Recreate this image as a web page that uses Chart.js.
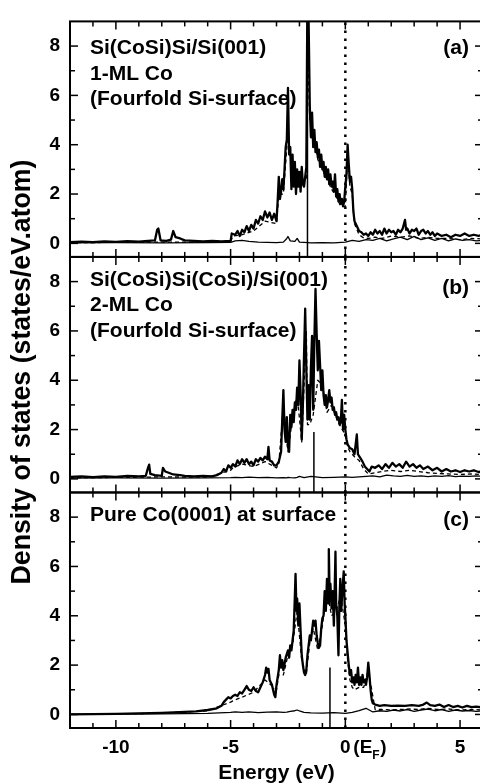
<!DOCTYPE html>
<html>
<head>
<meta charset="utf-8">
<script src="https://cdn.jsdelivr.net/npm/chart.js@4.4.1/dist/chart.umd.min.js"></script>
<style>
html, body { margin: 0; padding: 0; background: #fff; overflow: hidden; }
#wrap { width: 480px; height: 784px; overflow: hidden; position: relative; }
canvas { display: block; }
</style>
</head>
<body>
<div id="wrap"><canvas id="dos" width="486" height="784"></canvas></div>
<script>
// ---- data ----
const xTickValues = [-10, -5, 0, 5];
const yTickValues = [0, 2, 4, 6, 8];
const fermiEnergy = 0;

// panel (a) total DOS
const energyA = [
  -12, -11.5, -11, -10.5, -10, -9.5, -9, -8.6, -8.3, -8.2,
  -8.15, -8.05, -7.8, -7.6, -7.5, -7.4, -7.2, -7, -6.6, -6.2,
  -5.8, -5.4, -5.0, -4.95, -4.8, -4.7, -4.6, -4.5, -4.4, -4.3,
  -4.2, -4.1, -4.0, -3.9, -3.8, -3.7, -3.6, -3.5, -3.4, -3.3,
  -3.2, -3.1, -3.0, -2.95, -2.9, -2.85, -2.8, -2.75, -2.7, -2.65,
  -2.6, -2.55, -2.5, -2.45, -2.4, -2.35, -2.3, -2.25, -2.2, -2.15,
  -2.1, -2.05, -2.0, -1.95, -1.9, -1.85, -1.8, -1.75, -1.7, -1.66,
  -1.6, -1.55, -1.5, -1.45, -1.4, -1.35, -1.3, -1.25, -1.2, -1.15,
  -1.1, -1.05, -1.0, -0.95, -0.9, -0.85, -0.8, -0.75, -0.7, -0.65,
  -0.6, -0.55, -0.5, -0.45, -0.4, -0.35, -0.3, -0.25, -0.2, -0.15,
  -0.1, -0.05, 0.0, 0.05, 0.1, 0.15, 0.2, 0.25, 0.3, 0.35,
  0.4, 0.5, 0.6, 0.7, 0.8, 0.9, 1.0, 1.1, 1.2, 1.3,
  1.4, 1.5, 1.6, 1.7, 1.8, 1.9, 2.0, 2.1, 2.2, 2.3,
  2.4, 2.5, 2.6, 2.65, 2.7, 2.8, 2.9, 3.0, 3.1, 3.2,
  3.3, 3.4, 3.5, 3.6, 3.7, 3.8, 3.9, 4.0, 4.2, 4.4,
  4.6, 4.8, 5.0, 5.2, 5.4, 5.6, 5.8, 6.0
];
const totalA = [
  0.05, 0.07, 0.05, 0.08, 0.06, 0.09, 0.07, 0.1, 0.12, 0.55,
  0.6, 0.12, 0.1, 0.15, 0.5, 0.25, 0.2, 0.12, 0.1, 0.08,
  0.1, 0.08, 0.1, 0.4, 0.35, 0.5, 0.3, 0.55, 0.45, 0.7,
  0.5, 0.75, 0.6, 0.95, 0.8, 1.1, 0.95, 1.3, 1.05, 1.25,
  0.95, 1.2, 0.9, 1.7, 2.7, 1.8, 2.1, 2.6, 2.2, 3.0,
  3.9, 4.2, 6.3, 3.6, 3.9, 2.2, 3.6, 2.3, 3.3, 2.0,
  3.0, 2.3, 2.9, 2.1, 3.1, 2.4, 2.3, 2.7, 3.1, 9.0,
  9.0, 5.6, 4.3, 5.3, 3.9, 4.6, 3.7, 4.1, 3.5, 3.8,
  3.1, 3.6, 3.0, 3.3, 2.7, 3.1, 2.6, 3.0, 2.4, 2.8,
  2.3, 2.5, 2.1, 2.8, 1.9, 2.2, 1.7, 2.0, 1.6, 1.8,
  1.5, 1.7, 2.3, 2.8, 4.0, 3.2, 2.5, 2.7, 2.2, 1.3,
  0.9, 0.7, 0.5, 0.45, 0.35, 0.4, 0.3, 0.45, 0.35, 0.55,
  0.4, 0.5, 0.35, 0.6, 0.4, 0.55, 0.45, 0.5, 0.35, 0.55,
  0.45, 0.6, 0.95, 0.55, 0.6, 0.4, 0.55, 0.5, 0.6, 0.35,
  0.5, 0.55, 0.4, 0.5, 0.35, 0.45, 0.3, 0.4, 0.3, 0.35,
  0.25, 0.35, 0.3, 0.4, 0.3, 0.35, 0.3, 0.35
];

// panel (b) total DOS
const energyB = [
  -12, -11.5, -11, -10.5, -10, -9.5, -9, -8.7, -8.6, -8.55,
  -8.5, -8.3, -8.0, -7.95, -7.85, -7.7, -7.5, -7.2, -7.0, -6.6,
  -6.2, -5.8, -5.6, -5.4, -5.3, -5.2, -5.1, -5.0, -4.9, -4.8,
  -4.7, -4.6, -4.5, -4.4, -4.3, -4.2, -4.1, -4.0, -3.9, -3.8,
  -3.7, -3.6, -3.5, -3.4, -3.35, -3.3, -3.2, -3.1, -3.0, -2.9,
  -2.8, -2.75, -2.7, -2.65, -2.6, -2.55, -2.5, -2.45, -2.4, -2.35,
  -2.3, -2.25, -2.2, -2.15, -2.1, -2.05, -2.0, -1.95, -1.9, -1.85,
  -1.8, -1.75, -1.7, -1.65, -1.6, -1.55, -1.5, -1.45, -1.4, -1.35,
  -1.3, -1.25, -1.2, -1.15, -1.1, -1.05, -1.0, -0.95, -0.9, -0.85,
  -0.8, -0.75, -0.7, -0.65, -0.6, -0.55, -0.5, -0.45, -0.4, -0.35,
  -0.3, -0.25, -0.2, -0.15, -0.1, -0.05, 0.0, 0.05, 0.1, 0.2,
  0.3, 0.4, 0.5, 0.55, 0.65, 0.75, 0.85, 0.95, 1.05, 1.15,
  1.3, 1.45, 1.6, 1.75, 1.9, 2.05, 2.2, 2.35, 2.5, 2.65,
  2.8, 2.95, 3.1, 3.25, 3.4, 3.6, 3.8, 4.0, 4.2, 4.4,
  4.6, 4.8, 5.0, 5.2, 5.4, 5.6, 5.8, 6.0
];
const totalB = [
  0.08, 0.1, 0.07, 0.1, 0.08, 0.12, 0.1, 0.12, 0.45, 0.58,
  0.2, 0.15, 0.12, 0.45, 0.3, 0.25, 0.18, 0.15, 0.12, 0.1,
  0.12, 0.1, 0.15, 0.25, 0.4, 0.3, 0.55, 0.45, 0.6, 0.5,
  0.75, 0.6, 0.8, 0.65, 0.8, 0.6, 0.7, 0.55, 0.8, 0.7,
  0.85, 0.75, 0.9, 0.8, 1.3, 0.75, 0.7, 0.55, 0.55, 0.7,
  1.1, 2.4, 3.6, 2.0, 1.5, 2.5, 1.3, 1.1, 2.6, 2.1,
  2.8, 2.3, 3.1, 2.8, 3.7, 3.0, 4.8, 3.5, 1.6, 3.0,
  5.0, 6.9, 4.5, 2.4, 3.8, 2.4, 4.5, 5.8, 2.8, 5.6,
  7.7, 5.9, 4.4, 5.6, 4.6, 3.6, 4.4, 3.4, 3.0, 3.4,
  2.9, 3.2, 3.6, 3.1, 3.3, 2.8, 2.9, 2.6, 2.7, 2.4,
  2.5, 2.2, 2.3, 3.2, 2.0, 2.6, 2.0, 1.6, 1.4, 1.25,
  1.2, 1.0, 1.8, 1.0, 0.85, 0.7, 0.5, 0.4, 0.3, 0.5,
  0.45, 0.55, 0.4, 0.6, 0.45, 0.65, 0.5, 0.6, 0.45, 0.7,
  0.5, 0.6, 0.45, 0.55, 0.4, 0.5, 0.35, 0.45, 0.3, 0.4,
  0.3, 0.35, 0.28, 0.35, 0.3, 0.35, 0.28, 0.3
];

// panel (c) total DOS
const energyC = [
  -12, -11, -10, -9, -8, -7, -6.5, -6, -5.6, -5.4,
  -5.3, -5.2, -5.1, -5.0, -4.9, -4.8, -4.7, -4.6, -4.5, -4.4,
  -4.3, -4.2, -4.1, -4.0, -3.9, -3.8, -3.7, -3.6, -3.5, -3.45,
  -3.4, -3.35, -3.3, -3.2, -3.1, -3.05, -3.0, -2.9, -2.85, -2.8,
  -2.75, -2.7, -2.6, -2.5, -2.45, -2.4, -2.35, -2.3, -2.25, -2.2,
  -2.17, -2.13, -2.1, -2.05, -2.0, -1.95, -1.9, -1.85, -1.8, -1.75,
  -1.7, -1.65, -1.6, -1.55, -1.5, -1.45, -1.4, -1.35, -1.3, -1.25,
  -1.2, -1.15, -1.1, -1.05, -1.0, -0.95, -0.9, -0.85, -0.8, -0.75,
  -0.72, -0.68, -0.65, -0.6, -0.55, -0.5, -0.47, -0.43, -0.4, -0.35,
  -0.3, -0.26, -0.22, -0.18, -0.13, -0.07, -0.03, 0.0, 0.05, 0.1,
  0.15, 0.2, 0.25, 0.3, 0.35, 0.4, 0.45, 0.5, 0.55, 0.6,
  0.65, 0.7, 0.75, 0.8, 0.85, 0.9, 0.95, 1.0, 1.05, 1.1,
  1.15, 1.2, 1.3, 1.5, 1.7, 2.0, 2.3, 2.6, 2.9, 3.2,
  3.4, 3.55, 3.7, 3.9, 4.1, 4.3, 4.5, 4.7, 4.9, 5.1,
  5.3, 5.5, 5.7, 6.0
];
const totalC = [
  0.0, 0.01, 0.02, 0.04, 0.06, 0.1, 0.12, 0.18, 0.25, 0.35,
  0.5, 0.6, 0.7, 0.65, 0.75, 0.8, 0.75, 0.9, 0.85, 1.0,
  1.15, 1.0, 0.95, 1.1, 0.95, 0.9, 1.1, 1.3, 1.6, 1.9,
  1.7, 1.85, 1.4, 1.2, 0.8, 0.7, 1.2, 1.8, 2.4, 1.9,
  2.2, 1.8, 2.3, 2.6, 2.3, 2.8, 2.6, 3.0, 3.4, 4.8,
  5.7, 4.2, 4.7, 3.6, 4.5, 3.4, 2.4, 2.0, 1.7, 1.6,
  1.8, 2.4, 2.8, 3.2, 3.0, 3.4, 3.8, 3.6, 3.8, 3.2,
  2.9, 2.7, 2.8, 3.5, 3.9, 4.0, 5.0, 4.2, 5.5, 4.5,
  6.7, 4.6, 5.3, 4.3, 5.0, 3.6, 4.8, 6.6, 4.5, 4.0,
  2.4, 4.4, 5.5, 4.2, 5.0, 5.8, 4.5, 4.0, 3.0, 2.5,
  2.0, 1.6, 1.8, 1.3, 1.5, 1.2, 1.6, 1.3, 1.9, 1.2,
  1.5, 1.2, 1.6, 1.3, 1.4, 1.2, 1.5, 2.1, 1.6, 1.0,
  0.6, 0.45, 0.4, 0.35, 0.38, 0.35, 0.36, 0.35, 0.38, 0.35,
  0.4, 0.48, 0.38, 0.35, 0.4, 0.3, 0.38, 0.3, 0.35, 0.28,
  0.35, 0.3, 0.32, 0.28
];

// dashed partial DOS, shared energy grid
const energyCo = [
  -12, -10, -8, -6, -5.0,
  -4.9, -4.5, -4.0, -3.5, -3.0,
  -2.9, -2.7, -2.5, -2.3, -2.1,
  -1.9, -1.7, -1.65, -1.55, -1.4,
  -1.2, -1.0, -0.8, -0.6, -0.4,
  -0.2, 0.0, 0.1, 0.2, 0.3,
  0.4, 0.6, 0.8, 1.0, 1.3,
  1.6, 2.0, 2.4, 2.8, 3.2,
  3.6, 4.0, 4.5, 5.0, 5.5,
  6.0
];
const coA = [
  0.03, 0.04, 0.05, 0.05, 0.06,
  0.3, 0.35, 0.5, 0.9, 0.8,
  2.0, 2.0, 4.5, 2.8, 2.6,
  2.5, 2.6, 8.0, 5.0, 4.5,
  3.4, 3.0, 2.6, 2.2, 1.9,
  1.5, 1.5, 3.5, 2.3, 2.0,
  0.8, 0.35, 0.22, 0.2, 0.25,
  0.2, 0.3, 0.25, 0.3, 0.2,
  0.25, 0.2, 0.2, 0.15, 0.2,
  0.18
];
const coB = [
  0.05, 0.06, 0.08, 0.07, 0.35,
  0.45, 0.6, 0.5, 0.7, 0.45,
  0.6, 3.0, 1.1, 2.5, 3.4,
  1.5, 6.0, 2.2, 2.2, 2.6,
  4.0, 3.8, 2.7, 3.0, 2.5,
  2.1, 1.8, 1.3, 1.1, 1.0,
  0.9, 0.75, 0.4, 0.2, 0.25,
  0.3, 0.35, 0.3, 0.35, 0.3,
  0.25, 0.22, 0.2, 0.18, 0.2,
  0.18
];
const coC = [
  0.0, 0.02, 0.05, 0.15, 0.5,
  0.55, 0.7, 0.9, 1.4, 1.0,
  1.6, 1.6, 2.4, 2.8, 4.2,
  2.2, 1.6, 2.1, 2.9, 3.5,
  2.6, 3.6, 5.0, 4.0, 4.2,
  4.8, 3.6, 2.2, 1.4, 1.1,
  1.0, 1.1, 1.1, 1.8, 0.2,
  0.2, 0.18, 0.2, 0.22, 0.2,
  0.25, 0.2, 0.22, 0.18, 0.2,
  0.18
];

// low (Si) partial DOS, shared energy grid
const energyLow = [
  -12, -10, -8, -6, -5,
  -4.8, -4.5, -4.2, -3.8, -3.4,
  -3.0, -2.7, -2.55, -2.5, -2.4,
  -2.2, -2.1, -2.0, -1.8, -1.5,
  -1.0, -0.5, 0.0, 0.3, 0.6,
  0.9, 1.2, 1.5, 1.8, 2.1,
  2.4, 2.7, 3.0, 3.3, 3.6,
  3.9, 4.2, 4.5, 4.8, 5.1,
  5.4, 5.7, 6.0
];
const siA = [
  0.02, 0.03, 0.02, 0.03, 0.04,
  0.1, 0.12, 0.08, 0.05, 0.04,
  0.03, 0.05, 0.2, 0.28, 0.1,
  0.08, 0.2, 0.05, 0.04, 0.02,
  0.03, 0.02, 0.05, 0.12, 0.08,
  0.15, 0.12, 0.2, 0.1, 0.18,
  0.25, 0.15, 0.28, 0.15, 0.22,
  0.12, 0.2, 0.1, 0.18, 0.12,
  0.15, 0.1, 0.12
];
const siB = [
  0.03, 0.04, 0.03, 0.04, 0.05,
  0.06, 0.05, 0.07, 0.05, 0.06,
  0.04, 0.05, 0.04, 0.06, 0.05,
  0.04, 0.06, 0.1, 0.05, 0.1,
  0.05, 0.06, 0.08, 0.06, 0.08,
  0.1, 0.12, 0.08, 0.15, 0.12,
  0.1, 0.14, 0.1, 0.12, 0.09,
  0.12, 0.1, 0.13, 0.09, 0.11,
  0.1, 0.12, 0.1
];
const siC = [
  0.0, 0.01, 0.02, 0.04, 0.08,
  0.1, 0.08, 0.1, 0.07, 0.09,
  0.1, 0.08, 0.09, 0.1, 0.12,
  0.15, 0.18, 0.14, 0.08, 0.06,
  0.05, 0.07, 0.04, 0.08, 0.15,
  0.25, 0.1, 0.15, 0.12, 0.18,
  0.14, 0.2, 0.12, 0.18, 0.22,
  0.15, 0.2, 0.12, 0.18, 0.14,
  0.16, 0.12, 0.15
];

// thin vertical markers in each panel
const markerEnergy = [-1.65, -1.37, -0.67];
const markerTop = [9, 1.9, 1.9];

const panelTitles = [
  ['Si(CoSi)Si/Si(001)', '1-ML Co', '(Fourfold Si-surface)'],
  ['Si(CoSi)Si(CoSi)/Si(001)', '2-ML Co', '(Fourfold Si-surface)'],
  ['Pure Co(0001) at surface']
];
const panelTags = ['(a)', '(b)', '(c)'];

// ---- chart ----
const FONT = '"Liberation Sans", Arial, sans-serif';
const Y_MIN = -0.55, Y_MAX = 9;

const panels = [
  { id: 'yA', energy: energyA, total: totalA, co: coA, si: siA, textTop: 27, tagTop: 27 },
  { id: 'yB', energy: energyB, total: totalB, co: coB, si: siB, textTop: 23, tagTop: 31 },
  { id: 'yC', energy: energyC, total: totalC, co: coC, si: siC, textTop: 23, tagTop: 28 }
];

const pairs = (xs, ys) => xs.map((x, i) => ({ x: x, y: ys[i] }));
const line = { pointRadius: 0, borderColor: '#000', fill: false, tension: 0, borderJoinStyle: 'round' };

const datasets = [];
panels.forEach((p, k) => {
  datasets.push({ ...line, data: pairs(energyLow, p.si), yAxisID: p.id, borderWidth: 1.3 });
  datasets.push({ ...line, data: pairs(energyCo, p.co), yAxisID: p.id, borderWidth: 1.3, borderDash: [4, 3] });
  datasets.push({ ...line, data: pairs(p.energy, p.total), yAxisID: p.id, borderWidth: 2.3 });
  datasets.push({ ...line, data: [{ x: markerEnergy[k], y: Y_MIN }, { x: markerEnergy[k], y: markerTop[k] }], yAxisID: p.id, borderWidth: 1.5 });
  datasets.push({ ...line, data: [{ x: fermiEnergy, y: Y_MIN }, { x: fermiEnergy, y: Y_MAX }], yAxisID: p.id, borderWidth: 2.5, borderDash: [2.5, 5.5], borderCapStyle: 'butt' });
});

function yScale() {
  return {
    type: 'linear', position: 'left', stack: 'dos', stackWeight: 1,
    min: Y_MIN, max: Y_MAX,
    afterBuildTicks: ax => { ax.ticks = yTickValues.map(v => ({ value: v })); },
    afterFit: ax => { ax.width = 70; },
    grid: { display: false, drawTicks: false },
    border: { display: false },
    ticks: { color: '#000', padding: 10, font: { family: FONT, size: 19, weight: 'bold' } }
  };
}

const framePlugin = {
  id: 'frame',
  afterDatasetsDraw(chart) {
    const ctx = chart.ctx, xs = chart.scales.x;
    const seg = (x1, y1, x2, y2) => { ctx.beginPath(); ctx.moveTo(x1, y1); ctx.lineTo(x2, y2); ctx.stroke(); };
    ctx.save();
    ctx.strokeStyle = '#000';
    panels.forEach(p => {
      const ys = chart.scales[p.id];
      ctx.lineWidth = 1.5;
      for (let v = 0; v <= 8; v++) {
        const py = ys.getPixelForValue(v), len = v % 2 === 0 ? 8 : 5;
        seg(xs.left, py, xs.left + len, py);
        seg(xs.right, py, xs.right - len, py);
      }
      for (let e = -12; e <= 6; e++) {
        const px = xs.getPixelForValue(e), len = e % 5 === 0 ? 8 : 5;
        seg(px, ys.bottom, px, ys.bottom - len);
        seg(px, ys.top, px, ys.top + len);
      }
      ctx.lineWidth = 2;
      ctx.strokeRect(xs.left, ys.top, xs.right - xs.left, ys.bottom - ys.top);
    });
    ctx.restore();
  },
  afterDraw(chart) {
    const ctx = chart.ctx, xs = chart.scales.x;
    ctx.save();
    ctx.fillStyle = '#000';
    ctx.textBaseline = 'middle';
    panels.forEach((p, k) => {
      const ys = chart.scales[p.id];
      ctx.font = 'bold 21px ' + FONT;
      ctx.textAlign = 'left';
      panelTitles[k].forEach((t, i) => ctx.fillText(t, xs.left + 20, ys.top + p.textTop + i * 25.5));
      ctx.textAlign = 'right';
      ctx.fillText(panelTags[k], xs.right - 14, ys.top + p.tagTop);
    });
    // (E_F) after the 0 tick label
    const px0 = xs.getPixelForValue(fermiEnergy);
    const ly = xs.top + 8 + 19 * 1.2 / 2;
    ctx.textAlign = 'left';
    ctx.font = 'bold 19px ' + FONT;
    ctx.fillText('(E', px0 + 8, ly);
    const w = ctx.measureText('(E').width;
    ctx.font = 'bold 12px ' + FONT;
    ctx.fillText('F', px0 + 8 + w, ly + 8);
    ctx.font = 'bold 19px ' + FONT;
    ctx.fillText(')', px0 + 8 + w + 8, ly);
    // y axis title spanning the three panels
    ctx.font = 'bold 27px ' + FONT;
    const label = 'Density of states (states/eV.atom)';
    const tw = ctx.measureText(label).width;
    ctx.translate(23, 372);
    ctx.rotate(-Math.PI / 2);
    ctx.scale(425 / tw, 1);
    ctx.textAlign = 'center';
    ctx.fillText(label, 0, 0);
    ctx.restore();
  }
};

new Chart(document.getElementById('dos'), {
  type: 'line',
  data: { datasets: datasets },
  options: {
    responsive: false,
    animation: false,
    devicePixelRatio: 1,
    layout: { padding: { top: 16, right: 3, left: 0, bottom: 0 } },
    plugins: { legend: { display: false }, tooltip: { enabled: false } },
    scales: {
      x: {
        type: 'linear', position: 'bottom', min: -12, max: 6,
        afterBuildTicks: ax => { ax.ticks = xTickValues.map(v => ({ value: v })); },
        afterFit: ax => { ax.height = 56; },
        grid: { display: false, drawTicks: false },
        border: { display: false },
        ticks: { color: '#000', padding: 8, maxRotation: 0, font: { family: FONT, size: 19, weight: 'bold' }, callback: v => String(v) },
        title: { display: true, text: 'Energy (eV)', color: '#000', padding: 0, font: { family: FONT, size: 21, weight: 'bold', lineHeight: 1 } }
      },
      // stacked left axes are laid out last-first, so the bottom panel comes first
      yC: yScale(),
      yB: yScale(),
      yA: yScale()
    }
  },
  plugins: [framePlugin]
});
</script>
</body>
</html>
